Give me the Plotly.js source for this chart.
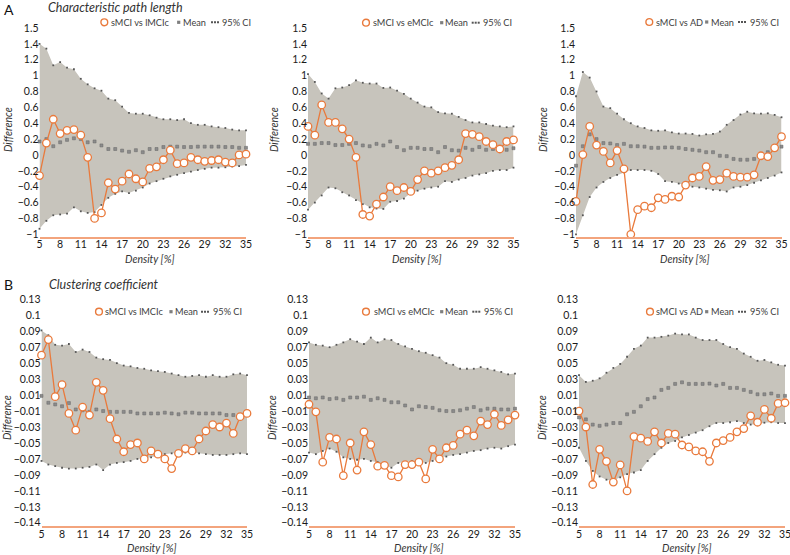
<!DOCTYPE html>
<html>
<head>
<meta charset="utf-8">
<script src="https://cdn.plot.ly/plotly-3.0.1.min.js"></script>
<style>html,body{margin:0;padding:0;background:#fff;}#chart{width:790px;height:555px;}</style>
</head>
<body>
<div id="chart"></div>
<script>
// ---------- data ----------
const density = [5,6,7,8,9,10,11,12,13,14,15,16,17,18,19,20,21,22,23,24,25,26,27,28,29,30,31,32,33,34,35];
const xTickVals = [5,8,11,14,17,20,23,26,29,32,35];

// A: characteristic path length
const cplObsL   = [-0.26,0.15,0.45,0.27,0.31,0.32,0.25,-0.03,-0.80,-0.73,-0.35,-0.43,-0.33,-0.24,-0.30,-0.34,-0.17,-0.15,-0.06,0.06,-0.11,-0.10,-0.03,-0.06,-0.08,-0.07,-0.06,-0.09,-0.10,0.00,0.01];
const cplMeanL  = [0.17,0.20,0.11,0.16,0.19,0.21,0.20,0.16,0.17,0.12,0.075,0.075,0.055,0.04,0.06,0.035,0.075,0.075,0.10,0.105,0.105,0.10,0.10,0.105,0.105,0.105,0.105,0.10,0.10,0.09,0.09];
const cplUpperL = [1.40,1.34,1.13,1.17,1.10,1.08,0.96,0.89,0.84,0.81,0.71,0.69,0.61,0.53,0.52,0.52,0.50,0.47,0.45,0.45,0.44,0.45,0.40,0.38,0.38,0.36,0.35,0.34,0.32,0.31,0.31];
const cplLowerL = [-0.93,-0.83,-0.76,-0.75,-0.74,-0.66,-0.71,-0.73,-0.72,-0.63,-0.54,-0.49,-0.46,-0.48,-0.45,-0.41,-0.36,-0.33,-0.30,-0.27,-0.25,-0.23,-0.21,-0.19,-0.175,-0.16,-0.16,-0.155,-0.145,-0.14,-0.125];

const cplObsE   = [0.36,0.25,0.63,0.41,0.41,0.33,0.20,-0.03,-0.75,-0.77,-0.62,-0.53,-0.40,-0.45,-0.41,-0.46,-0.31,-0.20,-0.23,-0.20,-0.16,-0.13,-0.06,0.27,0.26,0.23,0.17,0.13,0.075,0.17,0.19];
const cplMeanE  = [0.14,0.14,0.15,0.15,0.125,0.125,0.14,0.15,0.12,0.11,0.14,0.12,0.17,0.10,0.06,0.09,0.09,0.075,0.075,0.035,0.10,0.06,0.055,0.09,0.065,0.10,0.065,0.075,0.075,0.065,0.085];
const cplUpperE = [1.02,0.92,0.775,0.71,0.84,0.85,0.88,0.94,0.91,0.90,0.90,0.845,0.85,0.81,0.77,0.71,0.66,0.61,0.60,0.54,0.525,0.52,0.48,0.44,0.41,0.41,0.39,0.37,0.36,0.35,0.36];
const cplLowerE = [-0.69,-0.60,-0.51,-0.41,-0.42,-0.47,-0.51,-0.57,-0.62,-0.66,-0.675,-0.68,-0.59,-0.58,-0.55,-0.48,-0.45,-0.425,-0.41,-0.40,-0.33,-0.34,-0.31,-0.29,-0.26,-0.245,-0.23,-0.20,-0.19,-0.19,-0.16];

const cplObsA   = [-0.585,0.005,0.36,0.125,0.045,-0.10,0.055,-0.175,-1.0,-0.69,-0.645,-0.665,-0.54,-0.56,-0.52,-0.53,-0.38,-0.29,-0.27,-0.146,-0.32,-0.31,-0.23,-0.27,-0.28,-0.28,-0.25,-0.01,-0.02,0.09,0.23];
const cplMeanA  = [-0.135,0.11,0.26,0.20,0.15,0.145,0.125,0.14,0.11,0.11,0.105,0.09,0.09,0.095,0.095,0.09,0.075,0.065,0.055,0.035,0.035,-0.01,-0.015,-0.05,-0.06,-0.06,-0.05,-0.03,0.035,0.09,0.105];
const cplUpperA = [0.74,1.045,0.975,0.80,0.61,0.59,0.52,0.45,0.40,0.36,0.34,0.31,0.305,0.31,0.285,0.27,0.27,0.265,0.245,0.26,0.265,0.295,0.38,0.44,0.51,0.545,0.525,0.52,0.525,0.505,0.475];
const cplLowerA = [-1.0,-0.76,-0.53,-0.41,-0.34,-0.29,-0.25,-0.22,-0.19,-0.19,-0.19,-0.20,-0.24,-0.33,-0.34,-0.36,-0.38,-0.40,-0.41,-0.425,-0.44,-0.445,-0.46,-0.41,-0.40,-0.38,-0.35,-0.32,-0.29,-0.26,-0.22];

// B: clustering coefficient
const ccObsL   = [0.060,0.0795,0.008,0.023,-0.013,-0.034,-0.005,-0.015,0.026,0.016,-0.0196,-0.045,-0.061,-0.052,-0.050,-0.070,-0.060,-0.064,-0.070,-0.082,-0.063,-0.057,-0.060,-0.045,-0.035,-0.027,-0.030,-0.025,-0.038,-0.017,-0.013];
const ccMeanL  = [0.009,0.0004,-0.0017,-0.004,0.0,-0.008,-0.009,-0.011,-0.008,-0.010,-0.011,-0.011,-0.011,-0.011,-0.013,-0.013,-0.013,-0.013,-0.012,-0.013,-0.014,-0.012,-0.012,-0.013,-0.013,-0.013,-0.013,-0.015,-0.015,-0.015,-0.014];
const ccUpperL = [0.091,0.085,0.073,0.072,0.074,0.064,0.067,0.064,0.057,0.055,0.054,0.050,0.047,0.046,0.044,0.043,0.041,0.040,0.039,0.037,0.035,0.033,0.034,0.035,0.033,0.035,0.033,0.033,0.036,0.037,0.035];
const ccLowerL = [-0.0725,-0.077,-0.079,-0.081,-0.082,-0.082,-0.081,-0.080,-0.077,-0.084,-0.077,-0.075,-0.074,-0.0725,-0.070,-0.069,-0.068,-0.066,-0.064,-0.063,-0.063,-0.062,-0.061,-0.063,-0.064,-0.065,-0.065,-0.065,-0.064,-0.063,-0.064];

const ccObsE   = [-0.0015,-0.011,-0.074,-0.043,-0.045,-0.091,-0.050,-0.084,-0.036,-0.052,-0.079,-0.078,-0.091,-0.0925,-0.077,-0.077,-0.074,-0.095,-0.058,-0.070,-0.056,-0.053,-0.039,-0.034,-0.041,-0.0225,-0.027,-0.014,-0.028,-0.021,-0.015];
const ccMeanE  = [0.007,0.006,0.007,0.005,0.006,0.004,0.007,0.007,0.008,0.004,0.006,0.004,0.001,0.001,-0.003,-0.008,-0.004,-0.005,-0.006,-0.009,-0.010,-0.010,-0.009,-0.007,-0.005,-0.009,-0.007,-0.007,-0.008,-0.008,-0.007];
const ccUpperE = [0.076,0.073,0.072,0.070,0.073,0.076,0.080,0.077,0.074,0.082,0.076,0.080,0.079,0.074,0.071,0.068,0.065,0.063,0.060,0.057,0.050,0.048,0.043,0.043,0.043,0.045,0.043,0.041,0.039,0.036,0.037];
const ccLowerE = [-0.062,-0.064,-0.060,-0.057,-0.061,-0.068,-0.070,-0.071,-0.070,-0.0725,-0.074,-0.077,-0.081,-0.075,-0.074,-0.0725,-0.0725,-0.075,-0.0725,-0.068,-0.067,-0.065,-0.064,-0.062,-0.060,-0.059,-0.057,-0.056,-0.057,-0.054,-0.052];

const ccObsA   = [-0.010,-0.030,-0.102,-0.058,-0.073,-0.099,-0.0775,-0.110,-0.042,-0.044,-0.048,-0.036,-0.050,-0.038,-0.039,-0.0525,-0.055,-0.060,-0.061,-0.073,-0.050,-0.047,-0.043,-0.036,-0.032,-0.016,-0.024,-0.008,-0.019,-0.0004,0.0004];
const ccMeanA  = [-0.018,-0.0204,-0.027,-0.0285,-0.027,-0.025,-0.025,-0.014,-0.011,-0.004,0.005,0.007,0.0165,0.019,0.024,0.026,0.024,0.024,0.024,0.0244,0.022,0.024,0.019,0.019,0.0165,0.014,0.011,0.011,0.012,0.009,0.009];
const ccUpperA = [0.035,0.0265,0.028,0.031,0.038,0.044,0.049,0.058,0.068,0.072,0.082,0.082,0.083,0.0845,0.087,0.086,0.086,0.082,0.079,0.079,0.079,0.074,0.070,0.068,0.062,0.058,0.053,0.054,0.051,0.048,0.047];
const ccLowerA = [-0.056,-0.0725,-0.085,-0.092,-0.096,-0.097,-0.093,-0.089,-0.087,-0.084,-0.0725,-0.064,-0.056,-0.050,-0.0475,-0.043,-0.040,-0.037,-0.034,-0.029,-0.025,-0.025,-0.024,-0.0225,-0.025,-0.027,-0.027,-0.0246,-0.024,-0.025,-0.025];

// tick labels
const cplTickVals = [-1,-0.8,-0.6,-0.4,-0.2,0,0.2,0.4,0.6,0.8,1,1.2,1.4,1.6];
const cplTickText = ["\u22121","\u22120.8","\u22120.6","\u22120.4","\u22120.2","0","0.2","0.4","0.6","0.8","1","1.2","1.4","1.5"];
const ccTickVals = [-0.15,-0.13,-0.11,-0.09,-0.07,-0.05,-0.03,-0.01,0.01,0.03,0.05,0.07,0.09,0.11,0.13];
const ccTickText = ["\u22120.14","\u22120.13","\u22120.11","\u22120.09","\u22120.07","\u22120.05","\u22120.03","\u22120.01","0.01","0.03","0.05","0.07","0.09","0.1","0.13"];

const comparisons = ["sMCI vs lMCIc","sMCI vs eMCIc","sMCI vs AD"];

// ---------- layout helpers ----------
const W = 790, H = 555;
const px = v => v / W;
const py = v => 1 - v / H;

const ORANGE = '#E97A3C';
const AXIS_ORANGE = '#F3A47D';
const FILL = '#C7C4BC';
const FONT = 'Lato, "Open Sans", sans-serif';

const panels = [
  {obs:cplObsL, mean:cplMeanL, up:cplUpperL, lo:cplLowerL, xd:[39.5,246], row:0, name:comparisons[0],
   leg:{c:104.3,t:109.5,s:178.7,m:181.5,d:212,ci:220.5,y:22.3}, dens:150, diff:8},
  {obs:cplObsE, mean:cplMeanE, up:cplUpperE, lo:cplLowerE, xd:[308,513.5], row:0, name:comparisons[1],
   leg:{c:366,t:372,s:441.7,m:444,d:472.7,ci:482,y:22.7}, dens:417, diff:274},
  {obs:cplObsA, mean:cplMeanA, up:cplUpperA, lo:cplLowerA, xd:[576,781.5], row:0, name:comparisons[2],
   leg:{c:649.3,t:655,s:706.7,m:709.5,d:739,ci:748.7,y:22}, dens:685, diff:543},
  {obs:ccObsL, mean:ccMeanL, up:ccUpperL, lo:ccLowerL, xd:[41.5,247], row:1, name:comparisons[0],
   leg:{c:99,t:104,s:171,m:174,d:202,ci:212,y:311.7}, dens:152, diff:7},
  {obs:ccObsE, mean:ccMeanE, up:ccUpperE, lo:ccLowerE, xd:[309,515], row:1, name:comparisons[1],
   leg:{c:366,t:372.7,s:441.7,m:444.3,d:473.3,ci:483.3,y:311.7}, dens:419, diff:272},
  {obs:ccObsA, mean:ccMeanA, up:ccUpperA, lo:ccLowerA, xd:[579,785], row:1, name:comparisons[2],
   leg:{c:650,t:655,s:706.7,m:709.5,d:739,ci:749.3,y:311.7}, dens:687, diff:542}
];

const rows = [
  {range:[-1.03,1.6], yd:[py(236.7), py(28)], tv:cplTickVals, tt:cplTickText, densY:259, diffY:130},
  {range:[-0.154,0.13], yd:[py(526), py(299.3)], tv:ccTickVals, tt:ccTickText, densY:547.5, diffY:418}
];

const traces = [];
const layout = {
  width: W, height: H,
  margin: {l:0, r:0, t:0, b:0},
  paper_bgcolor: '#ffffff',
  plot_bgcolor: 'rgba(0,0,0,0)',
  showlegend: false,
  font: {family: FONT, size: 10, color: '#1f1f1f'},
  annotations: [],
  shapes: []
};

panels.forEach((p, i) => {
  const n = i + 1;
  const xa = 'x' + (n === 1 ? '' : n);
  const ya = 'y' + (n === 1 ? '' : n);
  const r = rows[p.row];

  traces.push({
    x: density, y: p.lo, xaxis: xa, yaxis: ya, type: 'scatter', mode: 'lines+markers',
    line: {width: 0, color: 'rgba(0,0,0,0)'},
    marker: {symbol: 'square', size: 1.8, color: '#555555'}, cliponaxis: false, hoverinfo: 'skip'
  });
  traces.push({
    x: density, y: p.up, xaxis: xa, yaxis: ya, type: 'scatter', mode: 'lines+markers',
    fill: 'tonexty', fillcolor: FILL,
    line: {width: 0, color: 'rgba(0,0,0,0)'},
    marker: {symbol: 'square', size: 1.8, color: '#555555'}, cliponaxis: false, hoverinfo: 'skip'
  });
  traces.push({
    x: density, y: p.mean, xaxis: xa, yaxis: ya, type: 'scatter', mode: 'markers',
    marker: {symbol: 'square', size: 3, color: '#8c8c8c', line: {color: '#666666', width: 0.5}},
    cliponaxis: false, hoverinfo: 'skip'
  });
  traces.push({
    x: density, y: p.obs, xaxis: xa, yaxis: ya, type: 'scatter', mode: 'lines+markers',
    line: {color: ORANGE, width: 1.3},
    marker: {symbol: 'circle', size: 7.5, color: '#ffffff', line: {color: ORANGE, width: 1.3}},
    cliponaxis: false, hoverinfo: 'skip'
  });

  layout['xaxis' + (n === 1 ? '' : n)] = {
    domain: [px(p.xd[0]), px(p.xd[1])], range: [5, 35], anchor: ya,
    tickmode: 'array', tickvals: xTickVals,
    showgrid: false, zeroline: false, ticks: '', ticklabelstandoff: -3, ticklabeloverflow: 'allow',
    showline: true, linecolor: AXIS_ORANGE, linewidth: 2,
    tickfont: {family: FONT, size: 10.5, color: '#1a1a1a'}, fixedrange: true
  };
  layout['yaxis' + (n === 1 ? '' : n)] = {
    domain: r.yd, range: r.range, anchor: xa,
    tickmode: 'array', tickvals: r.tv, ticktext: r.tt,
    showgrid: false, zeroline: false, ticks: '', showline: false, ticklabeloverflow: 'allow',
    tickfont: {family: FONT, size: 10.5, color: '#1a1a1a'}, fixedrange: true
  };

  // axis titles
  layout.annotations.push({
    xref: 'paper', yref: 'paper', x: px(p.dens), y: py(r.densY), xanchor: 'center', yanchor: 'middle',
    text: '<i>Density [%]</i>', showarrow: false, borderpad: 0, font: {family: FONT, size: 10.5, color: '#333'}
  });
  layout.annotations.push({
    xref: 'paper', yref: 'paper', x: px(p.diff), y: py(r.diffY), xanchor: 'center', yanchor: 'middle',
    text: '<i>Difference</i>', textangle: -90, showarrow: false, font: {family: FONT, size: 10.5, color: '#333'}
  });

  // legend
  const L = p.leg;
  layout.shapes.push({
    type: 'circle', xref: 'paper', yref: 'paper', xsizemode: 'pixel', ysizemode: 'pixel',
    xanchor: px(L.c), yanchor: py(L.y), x0: -3.4, x1: 3.4, y0: -3.4, y1: 3.4,
    line: {color: ORANGE, width: 1.4}, fillcolor: '#ffffff'
  });
  layout.shapes.push({
    type: 'rect', xref: 'paper', yref: 'paper', xsizemode: 'pixel', ysizemode: 'pixel',
    xanchor: px(L.s), yanchor: py(L.y), x0: -1.6, x1: 1.6, y0: -1.6, y1: 1.6,
    line: {width: 0}, fillcolor: '#7f7f7f'
  });
  [0, 3, 6].forEach(dx => {
    layout.shapes.push({
      type: 'rect', xref: 'paper', yref: 'paper', xsizemode: 'pixel', ysizemode: 'pixel',
      xanchor: px(L.d + dx), yanchor: py(L.y), x0: -1, x1: 1, y0: -1, y1: 1,
      line: {width: 0}, fillcolor: '#555555'
    });
  });
  const legText = (x, t) => ({
    xref: 'paper', yref: 'paper', x: px(x), y: py(L.y), xanchor: 'left', yanchor: 'middle',
    text: t, showarrow: false, borderpad: 0, font: {family: FONT, size: 9.2, color: '#404040'}
  });
  layout.annotations.push(legText(L.t, p.name));
  layout.annotations.push(legText(L.m, 'Mean'));
  layout.annotations.push(legText(L.ci, '95% CI'));
});

// panel letters and titles
layout.annotations.push({xref:'paper', yref:'paper', x:px(2), y:py(9), xanchor:'left', yanchor:'middle',
  text:'A', showarrow:false, font:{family:FONT, size:14, color:'#111'}});
layout.annotations.push({xref:'paper', yref:'paper', x:px(45.5), y:py(8), xanchor:'left', yanchor:'middle',
  text:'<i>Characteristic path length</i>', showarrow:false, font:{family:FONT, size:12.5, color:'#333'}});
layout.annotations.push({xref:'paper', yref:'paper', x:px(2), y:py(284), xanchor:'left', yanchor:'middle',
  text:'B', showarrow:false, font:{family:FONT, size:14, color:'#111'}});
layout.annotations.push({xref:'paper', yref:'paper', x:px(46.5), y:py(284.5), xanchor:'left', yanchor:'middle',
  text:'<i>Clustering coefficient</i>', showarrow:false, font:{family:FONT, size:12.5, color:'#333'}});

Plotly.newPlot('chart', traces, layout, {displayModeBar: false, staticPlot: true});
</script>
</body>
</html>
